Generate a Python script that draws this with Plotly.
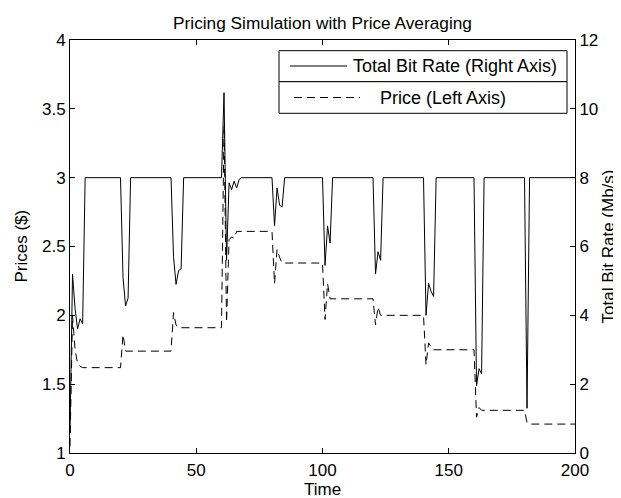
import plotly.graph_objects as go

# ---- data (vertices of the piecewise-linear series) ----
rate_time = [0, 1, 2, 3, 4, 5, 6, 20, 21, 22, 23, 24, 40, 41, 42, 43, 44, 45,
             60, 61, 62, 63, 64, 65, 66, 67, 68, 80, 81, 82, 83, 84, 85,
             100, 101, 102, 103, 104, 120, 121, 122, 123, 124,
             140, 141, 142, 143, 144, 145, 160, 161, 162, 163, 164,
             180, 181, 182, 200]
rate_vals = [0.6, 5.2, 4.2, 3.6, 3.9, 3.75, 8, 8, 5.1, 4.27, 4.5, 8, 8, 5.7, 4.9, 5.3, 5.35, 8,
             8, 10.47, 5.6, 7.85, 7.65, 7.9, 7.7, 7.95, 8, 8, 6.6, 7.7, 7.2, 7.15, 8,
             8, 5.45, 6.6, 6.1, 8, 8, 5.2, 5.85, 5.6, 8,
             8, 4.0, 4.93, 4.7, 4.55, 8, 8, 1.95, 2.45, 2.3, 8,
             8, 1.3, 8, 8]

price_time = [0, 1, 2, 3, 4, 5, 20, 21, 22, 40, 41, 42, 43,
              60, 61, 62, 63, 64, 65, 66, 80, 81, 82, 83, 84,
              100, 101, 102, 103, 120, 121, 122, 123,
              140, 141, 142, 143, 144, 160, 161, 162, 163,
              180, 181, 182, 200]
price_vals = [1.05, 2.0, 1.75, 1.65, 1.63, 1.62, 1.62, 1.86, 1.74, 1.74, 2.02, 1.93, 1.91,
              1.91, 3.38, 1.95, 2.55, 2.57, 2.56, 2.61, 2.61, 2.23, 2.48, 2.42, 2.38,
              2.38, 1.97, 2.23, 2.12, 2.12, 1.93, 2.06, 2.0,
              2.0, 1.64, 1.80, 1.77, 1.75, 1.75, 1.26, 1.33, 1.31,
              1.31, 1.22, 1.21, 1.21]

x_ticks = [0, 50, 100, 150, 200]
left_ticks = [1, 1.5, 2, 2.5, 3, 3.5, 4]
right_ticks = [0, 2, 4, 6, 8, 10, 12]
legend_labels = ["Total Bit Rate (Right Axis)", "Price (Left Axis)"]

FONT = "Liberation Sans, Arial, sans-serif"
# the page body has an 8px margin, so the figure is drawn 8px smaller and offset
OFF = 8
W, H = 621 - OFF, 498 - OFF
# plot area in page pixels
L, R, T, B = 70, 575, 40, 453


def px(x):
    return (x - L) / (R - L)


def py(y):
    return (B - y) / (B - T)


fig = go.Figure()
fig.add_trace(go.Scatter(x=price_time, y=price_vals, mode="lines", yaxis="y",
                         line=dict(color="black", width=1, dash="8px,5px"),
                         name=legend_labels[1], showlegend=False))
fig.add_trace(go.Scatter(x=rate_time, y=rate_vals, mode="lines", yaxis="y2",
                         line=dict(color="black", width=1),
                         name=legend_labels[0], showlegend=False))

axis_common = dict(showgrid=False, zeroline=False, showline=True, linecolor="black",
                   linewidth=1, ticks="inside", ticklen=5, tickcolor="black",
                   tickfont=dict(family=FONT, size=17, color="black"))

fig.update_layout(
    width=W, height=H, autosize=False,
    margin=dict(l=L - OFF, r=W - (R - OFF), t=T - OFF, b=H - (B - OFF), pad=0),
    paper_bgcolor="white", plot_bgcolor="white",
    font=dict(family=FONT, size=17, color="black"),
    title=dict(text="Pricing Simulation with Price Averaging", x=0.5, xref="paper",
               xanchor="center", y=1 - (23 - OFF) / H, yanchor="middle",
               font=dict(family=FONT, size=17.25, color="black")),
    xaxis=dict(range=[0, 200], tickvals=x_ticks, mirror="ticks", ticklabelstandoff=2,
               **axis_common),
    yaxis=dict(range=[1, 4], tickvals=left_ticks, **axis_common),
    yaxis2=dict(range=[0, 12], tickvals=right_ticks, overlaying="y", side="right",
                **axis_common),
    showlegend=False,
)

# axis titles
fig.add_annotation(text="Time", xref="paper", yref="paper", x=0.5, y=py(489),
                   showarrow=False, xanchor="center", yanchor="middle",
                   font=dict(family=FONT, size=17, color="black"))
fig.add_annotation(text="Prices ($)", xref="paper", yref="paper", x=px(21), y=py(246.5),
                   showarrow=False, xanchor="center", yanchor="middle", textangle=-90,
                   font=dict(family=FONT, size=17, color="black"))
fig.add_annotation(text="Total Bit Rate (Mb/s)", xref="paper", yref="paper", x=px(608),
                   y=py(246.5), showarrow=False, xanchor="center", yanchor="middle",
                   textangle=-90, font=dict(family=FONT, size=17, color="black"))

# legend boxes (two stacked legends, as in the original)
box_x0, box_x1 = 279, 567
rows = [(50.7, 81.7), (81.7, 113.3)]
for (y0, y1) in rows:
    fig.add_shape(type="rect", xref="paper", yref="paper", x0=px(box_x0), x1=px(box_x1),
                  y0=py(y1), y1=py(y0), line=dict(color="black", width=1),
                  fillcolor="white", layer="above")
# samples
fig.add_shape(type="line", xref="paper", yref="paper", x0=px(290), x1=px(347),
              y0=py(66), y1=py(66), line=dict(color="black", width=1), layer="above")
fig.add_shape(type="line", xref="paper", yref="paper", x0=px(294), x1=px(360),
              y0=py(97.5), y1=py(97.5), line=dict(color="black", width=1, dash="8px,5px"),
              layer="above")
fig.add_annotation(text=legend_labels[0], xref="paper", yref="paper", x=px(351), y=py(66),
                   showarrow=False, xanchor="left", yanchor="middle",
                   font=dict(family=FONT, size=18, color="black"))
fig.add_annotation(text=legend_labels[1], xref="paper", yref="paper", x=px(378), y=py(97.5),
                   showarrow=False, xanchor="left", yanchor="middle",
                   font=dict(family=FONT, size=18, color="black"))

fig.write_html("out.html")
